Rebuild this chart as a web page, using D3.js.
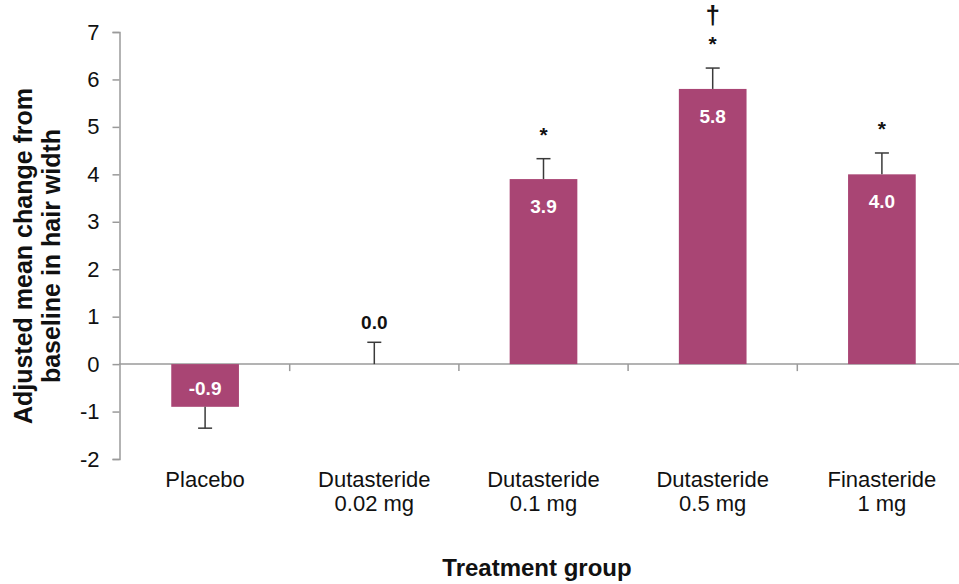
<!DOCTYPE html>
<html>
<head>
<meta charset="utf-8">
<script src="https://cdn.jsdelivr.net/npm/d3@7"></script>
<style>
  body { margin: 0; background: #fff; }
  text { font-family: Arial, "Liberation Sans", sans-serif; }
</style>
</head>
<body>
<div id="viz"></div>
<script>
// values
var groups = ['Placebo', 'Dutasteride 0.02 mg', 'Dutasteride 0.1 mg', 'Dutasteride 0.5 mg', 'Finasteride 1 mg'];
var groupLines = [['Placebo'], ['Dutasteride', '0.02 mg'], ['Dutasteride', '0.1 mg'], ['Dutasteride', '0.5 mg'], ['Finasteride', '1 mg']];
var means = [-0.9, 0.0, 3.9, 5.8, 4.0];
var errs = [0.45, 0.46, 0.43, 0.44, 0.45];
var marks = [[], [], ['*'], ['\u2020', '*'], ['*']];
var yTicks = [-2, -1, 0, 1, 2, 3, 4, 5, 6, 7];

var chart = {width: 959, height: 584};
var barColor = '#A94574';
var axisColor = '#9a9a9a';

var svg = d3.select('#viz')
  .append('svg')
  .attr('width', chart.width)
  .attr('height', chart.height)

var y = d3.scaleLinear()
  .domain([-2, 7])
  .range([459, 32]);

var x = d3.scaleBand()
  .domain(groups)
  .range([120.5, 966.5])
  .paddingInner(0.6)
  .paddingOuter(0.3);

// y axis
var yAxis = svg.append('g')
  .attr('transform', 'translate(119.5,0)')
  .call(d3.axisLeft(y).tickValues(yTicks).tickSize(7).tickPadding(13).tickFormat((d) => String(d)));
yAxis.select('.domain').attr('stroke', axisColor).attr('stroke-width', 1.5);
yAxis.selectAll('.tick line').attr('stroke', axisColor).attr('stroke-width', 1.5);
yAxis.selectAll('.tick text')
  .style('font-size', '22px')
  .attr('fill', '#111')
  .style('font-family', 'Arial, "Liberation Sans", sans-serif');

// zero line with category ticks
var step = x.step();
var bounds = d3.range(groups.length).map((i) => x(groups[i]) - x.step() * x.paddingInner() / 2 + step);
svg.append('line')
  .attr('x1', 119).attr('x2', chart.width)
  .attr('y1', y(0)).attr('y2', y(0))
  .attr('stroke', axisColor).attr('stroke-width', 1.5);
svg.append('g')
  .selectAll('line')
  .data(bounds)
  .enter()
  .append('line')
  .attr('x1', (d) => d).attr('x2', (d) => d)
  .attr('y1', y(0)).attr('y2', y(0) + 7)
  .attr('stroke', axisColor).attr('stroke-width', 1.5);

// bars
svg.append('g')
  .selectAll('rect')
  .data(means)
  .enter()
  .append('rect')
  .attr('x', (d, i) => x(groups[i]))
  .attr('width', x.bandwidth())
  .attr('y', (d) => y(Math.max(0, d)))
  .attr('height', (d) => Math.abs(y(d) - y(0)))
  .attr('fill', barColor);

// error bars
var eb = svg.append('g').attr('stroke', '#3a3a3a').attr('stroke-width', 1.5);
means.forEach(function(m, i) {
  var cx = x(groups[i]) + x.bandwidth() / 2;
  var end = m < 0 ? m - errs[i] : m + errs[i];
  eb.append('line').attr('x1', cx).attr('x2', cx).attr('y1', y(m)).attr('y2', y(end));
  eb.append('line').attr('x1', cx - 7).attr('x2', cx + 7).attr('y1', y(end)).attr('y2', y(end));
});

// value labels
svg.append('g')
  .selectAll('text')
  .data(means)
  .enter()
  .append('text')
  .attr('x', (d, i) => x(groups[i]) + x.bandwidth() / 2)
  .attr('y', function(d, i) {
    if (d === 0) return y(d + errs[i]) - 13;
    if (d < 0) return y(0) + 31;
    return y(d) + 34;
  })
  .attr('text-anchor', 'middle')
  .attr('font-size', 19)
  .attr('font-weight', 'bold')
  .attr('fill', (d) => d === 0 ? '#111' : '#fff')
  .text((d) => d.toFixed(1));

// significance marks
means.forEach(function(m, i) {
  var cx = x(groups[i]) + x.bandwidth() / 2;
  var top = y(m + errs[i]);
  marks[i].slice().reverse().forEach(function(s, k) {
    svg.append('text')
      .attr('x', cx)
      .attr('y', s === '*' ? top - 17 : top - 44)
      .attr('text-anchor', 'middle')
      .attr('font-size', s === '*' ? 21 : 26)
      .attr('font-weight', 'bold')
      .attr('fill', '#111')
      .text(s);
  });
});

// category labels
groupLines.forEach(function(lines, i) {
  var t = svg.append('text')
    .attr('x', x(groups[i]) + x.bandwidth() / 2)
    .attr('y', 487)
    .attr('text-anchor', 'middle')
    .attr('font-size', 22)
    .attr('fill', '#111');
  lines.forEach(function(l, k) {
    t.append('tspan').attr('x', x(groups[i]) + x.bandwidth() / 2).attr('dy', k === 0 ? 0 : 24).text(l);
  });
});

// axis titles
svg.append('text')
  .attr('x', 537).attr('y', 576)
  .attr('text-anchor', 'middle')
  .attr('font-size', 24)
  .attr('font-weight', 'bold')
  .attr('fill', '#111')
  .text('Treatment group');

var yt = svg.append('text')
  .attr('transform', 'translate(32,256) rotate(-90)')
  .attr('text-anchor', 'middle')
  .attr('font-size', 25)
  .attr('font-weight', 'bold')
  .attr('fill', '#111');
yt.append('tspan').attr('x', 0).attr('dy', 0).text('Adjusted mean change from');
yt.append('tspan').attr('x', 0).attr('dy', 28).text('baseline in hair width');
</script>
</body>
</html>
